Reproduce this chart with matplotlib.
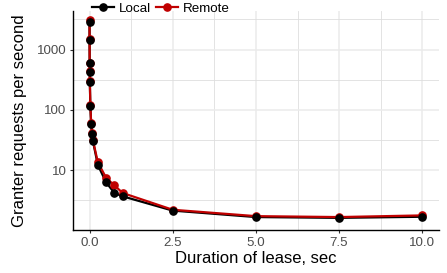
import matplotlib
matplotlib.use('Agg')
import matplotlib.pyplot as plt
import matplotlib.ticker as mticker
import numpy as np

plt.rcParams['font.family'] = ['Liberation Sans', 'DejaVu Sans']

# lease durations (sec) and granter rates
lease = [0.001, 0.002, 0.005, 0.0075, 0.01, 0.025, 0.05, 0.075, 0.1,
         0.25, 0.5, 0.75, 1.0, 2.5, 5.0, 7.5, 10.0]
local = [2910, 1420, 590, 430, 295, 117, 58, 40, 31,
         12.3, 6.3, 4.2, 3.7, 2.15, 1.68, 1.63, 1.70]
remote = [3050, 1520, 600, 440, 300, 120, 61, 42, 32,
          13.6, 7.5, 5.6, 4.2, 2.22, 1.74, 1.68, 1.79]

BLACK = '#000000'
RED = '#c00000'
LW = 1.6
MS = 5.2

fig = plt.figure(figsize=(4.47, 2.73), dpi=100)
ax = fig.add_axes([0.163, 0.1575, 0.819, 0.8025])

ax.plot(lease, local, color=BLACK, lw=LW, zorder=3)
ax.plot(lease, remote, color=RED, lw=LW, zorder=4)
ax.plot(lease, remote, 'o', color=RED, ms=MS, zorder=5)
ax.plot(lease, local, 'o', color=BLACK, ms=MS, zorder=6)

ax.set_yscale('log')
ax.set_xlim(-0.5, 10.5)
ax.set_ylim(10 ** 0.011, 10 ** 3.64)

ax.xaxis.set_major_locator(mticker.FixedLocator([0, 2.5, 5, 7.5, 10]))
ax.xaxis.set_minor_locator(mticker.FixedLocator([1.25, 3.75, 6.25, 8.75]))
ax.xaxis.set_major_formatter(mticker.FixedFormatter(['0.0', '2.5', '5.0', '7.5', '10.0']))
ax.yaxis.set_major_locator(mticker.FixedLocator([10, 100, 1000]))
ax.yaxis.set_major_formatter(mticker.FixedFormatter(['10', '100', '1000']))
ax.yaxis.set_minor_locator(mticker.FixedLocator([10 ** 0.5, 10 ** 1.5, 10 ** 2.5, 10 ** 3.5]))
ax.yaxis.set_minor_formatter(mticker.NullFormatter())

ax.grid(True, which='major', color='#ebebeb', lw=1.1, zorder=0)
ax.grid(True, which='minor', color='#dedede', lw=0.6, zorder=0)
ax.set_axisbelow(True)

for s in ['top', 'right']:
    ax.spines[s].set_visible(False)
for s in ['left', 'bottom']:
    ax.spines[s].set_linewidth(1.0)
    ax.spines[s].set_color('black')

ax.tick_params(which='major', length=2.5, width=0.8, color='#333333',
               labelsize=9.6, labelcolor='#4d4d4d', pad=2.2)
ax.tick_params(which='minor', length=0)

ax.set_xlabel('Duration of lease, sec', fontsize=12, labelpad=2)
ax.set_ylabel('Granter requests per second', fontsize=12, labelpad=7)

h1, = ax.plot([], [], '-o', color=BLACK, lw=LW, ms=MS)
h2, = ax.plot([], [], '-o', color=RED, lw=LW, ms=MS)
fig.legend([h1, h2], ['Local', 'Remote'], loc='center left',
           bbox_to_anchor=(0.206, 0.968), ncol=2, frameon=False,
           fontsize=9.6, handlelength=1.65, handletextpad=0.35,
           columnspacing=0.4, borderpad=0, borderaxespad=0)

fig.savefig('out.png', dpi=100)
